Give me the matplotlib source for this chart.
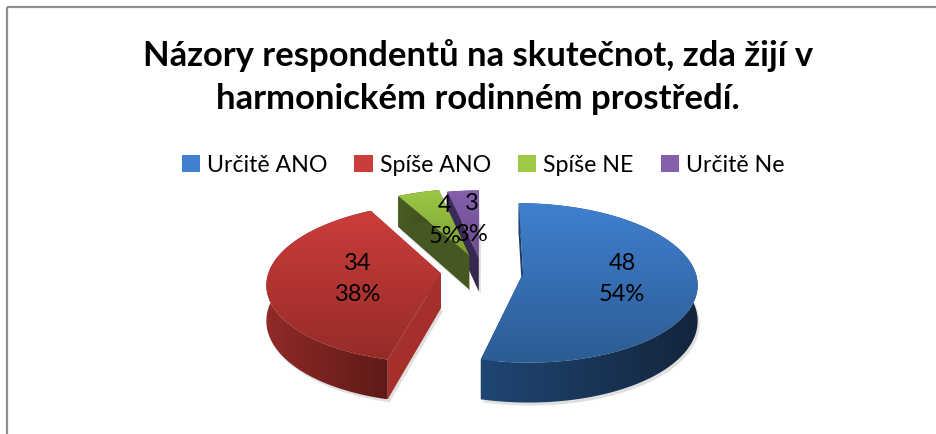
import numpy as np
import matplotlib
matplotlib.use("Agg")
import matplotlib.pyplot as plt
from matplotlib.patches import Polygon, Patch
from matplotlib.colors import LinearSegmentedColormap as LSC

categories = ["Určitě ANO", "Spíše ANO", "Spíše NE", "Určitě Ne"]
values = [48, 34, 4, 3]
percents = [54, 38, 5, 3]
explode = [0.24, 0.24, 0.22, 0.18]
title = "Názory respondentů na skutečnot, zda žijí v\nharmonickém rodinném prostředí."

top_colors = [("#3f80cf", "#2d5c94"), ("#cb3d3a", "#962b28"), ("#9dc944", "#7c9e35"), ("#8560ad", "#6a4c8c")]
wall_colors = [("#1f4673", "#14253d"), ("#8f2a27", "#5f1a18"), ("#4a5d22", "#3c4c1c"), ("#3e2c60", "#33244f")]
radial_colors = ["#1c3c63", "#a42f2b", "#465822", "#37284f"]
label_pos = [(622, 279), (358, 279), (445, 221), (472, 219)]

plt.rcParams["font.family"] = ["Lato", "Open Sans", "DejaVu Sans"]
W, H = 937, 434
fig = plt.figure(figsize=(W / 100, H / 100), dpi=100)
ax = fig.add_axes([0, 0, 1, 1])
ax.set_xlim(0, W); ax.set_ylim(H, 0); ax.axis("off")

x0, y0, rx, ry, k, depth = 482, 271, 172, 78, 0.12, 35

def proj(X, V, drop=0.0):
    p = 1 / (1 + k * V)
    return x0 + rx * X * p, y0 - ry * V * p + drop * p

def grad(poly, colors, vertical, z):
    xy = poly
    g = np.linspace(0, 1, 64)
    g = g[:, None] if vertical else g[None, :]
    ext = (xy[:, 0].min(), xy[:, 0].max(), xy[:, 1].max(), xy[:, 1].min())
    im = ax.imshow(g, cmap=LSC.from_list("c", colors), extent=ext, aspect="auto", zorder=z, origin="upper")
    pat = Polygon(xy, closed=True, transform=ax.transData, fc="none", ec="none")
    ax.add_patch(pat)
    im.set_clip_path(pat)

def wedge(i, theta0, theta1, z):
    mid = (theta0 + theta1) / 2
    ex, ev = explode[i] * np.sin(mid), explode[i] * np.cos(mid)
    th = np.linspace(theta0, theta1, 80)
    X = ex + np.sin(th); V = ev + np.cos(th)
    ax_x, ax_y = proj(ex, ev)
    bx, by = proj(ex, ev, depth)
    ox, oy = proj(X, V)
    dx, dy = proj(X, V, depth)
    # soft shadow
    shadow = np.c_[np.r_[dx, bx] + 2, np.r_[dy, by] + 3]
    ax.add_patch(Polygon(shadow, fc="#000000", alpha=0.12, ec="none", zorder=z))
    # radial walls
    for j in (0, -1):
        wall = np.array([[ax_x, ax_y], [ox[j], oy[j]], [dx[j], dy[j]], [bx, by]])
        ax.add_patch(Polygon(wall, fc=radial_colors[i], ec="none", zorder=z + 0.1))
    # outer wall
    wall = np.c_[np.r_[ox, dx[::-1]], np.r_[oy, dy[::-1]]]
    c0, c1 = wall_colors[i]
    grad(wall, [c0, c1], False, z + 0.2)
    # top
    top = np.c_[np.r_[ax_x, ox], np.r_[ax_y, oy]]
    grad(top, list(top_colors[i]), True, z + 0.3)

fracs = np.array(values) / sum(values)
edges = np.r_[0, np.cumsum(fracs)] * 2 * np.pi
for z, i in enumerate([3, 2, 1, 0]):
    wedge(i, edges[i], edges[i + 1], z + 1)

for (x, y), v, p in zip(label_pos, values, percents):
    ax.text(x, y, f"{v}\n{p}%", ha="center", va="center", fontsize=17, color="black",
            linespacing=1.55, zorder=10)

ax.text(478, 77, title, ha="center", va="center", fontsize=24.9, fontweight="bold", color="black",
        linespacing=1.42, zorder=10)

handles = [Patch(fc=c[0], ec="none") for c in top_colors]
leg = ax.legend(handles, categories, ncol=4, loc="center", bbox_to_anchor=(483 / W, 1 - 165 / H),
                frameon=False, fontsize=16.7, handlelength=0.78, handleheight=0.78,
                handletextpad=0.3, columnspacing=1.18, borderpad=0)

ax.plot([7, 7], [H, 7], color="#8f8f8f", lw=1.6, zorder=0, solid_capstyle="butt")
ax.plot([7, W], [7, 7], color="#8f8f8f", lw=1.6, zorder=0, solid_capstyle="butt")
ax.set_xlim(0, W); ax.set_ylim(H, 0)
fig.savefig("out.png", dpi=100, facecolor="white")
